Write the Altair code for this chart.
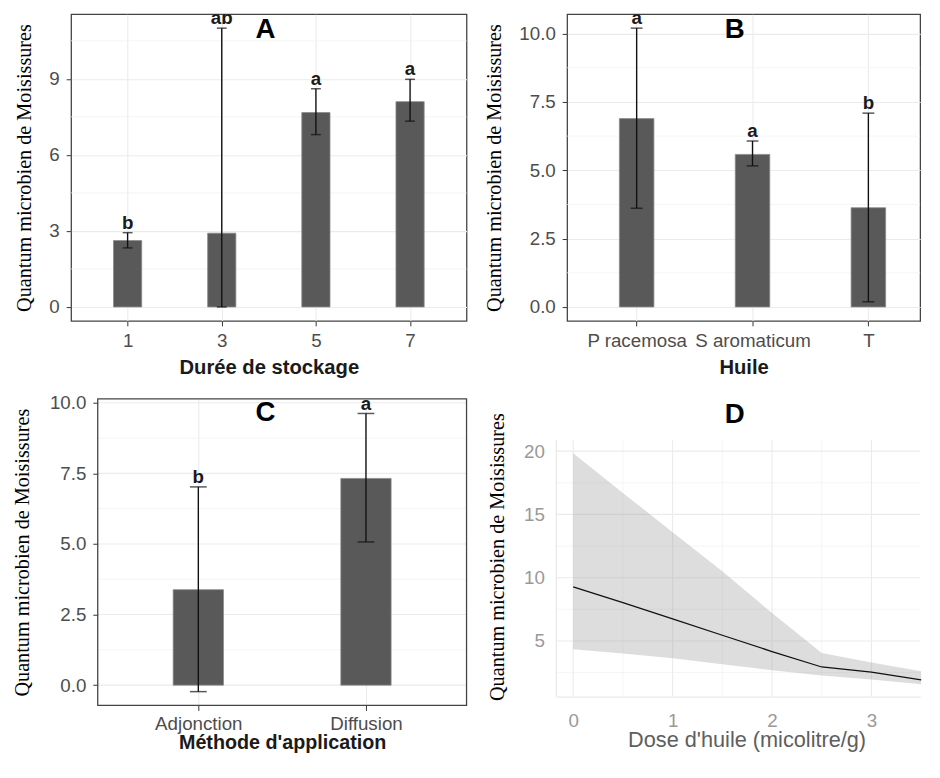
import json
import altair as alt
import pandas as pd

# ---------------- data ----------------
YT = "Quantum microbien de Moisissures"

# Panel A : Durée de stockage
dur_cats = ["1", "3", "5", "7"]
dur_mean = [2.62, 2.91, 7.67, 8.10]
dur_lo = [2.33, 0.0, 6.80, 7.33]
dur_hi = [2.93, 11.0, 8.61, 8.98]
dur_letters = ["b", "ab", "a", "a"]

# Panel B : Huile
huile_cats = ["P racemosa", "S aromaticum", "T"]
huile_mean = [6.89, 5.58, 3.63]
huile_lo = [3.61, 5.16, 0.19]
huile_hi = [10.2, 6.07, 7.09]
huile_letters = ["a", "a", "b"]

# Panel C : Méthode d'application
meth_cats = ["Adjonction", "Diffusion"]
meth_mean = [3.38, 7.32]
meth_lo = [-0.23, 5.07]
meth_hi = [7.02, 9.62]
meth_letters = ["b", "a"]

# Panel D : Dose d'huile
dose = [0, 0.5, 1, 1.5, 2, 2.5, 3, 3.5]
dose_fit = [9.27, 8.03, 6.74, 5.45, 4.16, 2.94, 2.53, 1.93]
dose_upper = [19.84, 16.7, 13.6, 10.5, 7.2, 4.05, 3.3, 2.6]
dose_lower = [4.34, 4.0, 3.64, 3.15, 2.68, 2.27, 1.96, 1.57]
dose_ticks = [0, 1, 2, 3]
dose_minor = [0.5, 1.5, 2.5, 3.5]
d_yticks = [5, 10, 15, 20]
d_yminor = [2.5, 7.5, 12.5, 17.5]

panel_labels = ["A", "B", "C", "D"]

SANS = "Liberation Sans"
SERIF = "Liberation Serif"
GRID = "#ebebeb"
MINOR = "#f2f2f2"
FRAME = "#444444"


def panel_letter(label, px, py):
    return alt.Chart(pd.DataFrame({"t": [label]})).mark_text(
        font=SANS, fontSize=28, fontWeight="bold", color="black", baseline="middle",
        align="center").encode(x=alt.value(px), y=alt.value(py), text="t:N")


def bar_panel(cats, mean, lo, hi, letters, xtitle, ydom, yvals, yminor, yfmt,
              w, h, xdom, bar_size, cap_size, label, lx, ly, ytp,
              xrange=None, yoffset=0, xlp=6, xtp=7, xtfs=20.5):
    df = pd.DataFrame({"pos": list(range(1, len(cats) + 1)), "mean": mean,
                       "lo": lo, "hi": hi, "lab": letters})
    inset = xrange is not None
    yscale = alt.Scale(domain=ydom, nice=False, zero=False)
    if inset:
        xscale = alt.Scale(domain=xdom, nice=False, zero=False, padding=0, range=xrange)
    else:
        xscale = alt.Scale(domain=xdom, nice=False, zero=False, padding=0)
    label_expr = "%s[datum.value - 1]" % json.dumps(cats, ensure_ascii=False)
    xaxis = alt.Axis(title=xtitle, values=list(range(1, len(cats) + 1)), labelExpr=label_expr,
                     labelAngle=0, labelFlush=False, labelOverlap=False,
                     grid=True, gridColor=GRID, gridWidth=1.1,
                     tickColor="#333333", tickSize=5, domain=False,
                     labelFont=SANS, labelFontSize=19, labelColor="#4d4d4d", labelPadding=xlp,
                     titleFont=SANS, titleFontSize=xtfs, titleFontWeight="bold",
                     titleColor="#1a1a1a", titlePadding=xtp)
    yaxis = alt.Axis(title=YT, values=yvals, format=yfmt, grid=not inset, gridColor=GRID,
                     gridWidth=1.1, tickColor="#333333", tickSize=5, domain=False, offset=yoffset,
                     labelFont=SANS, labelFontSize=19, labelColor="#4d4d4d", labelPadding=7,
                     titleFont=SERIF, titleFontSize=20.5, titleFontWeight="normal",
                     titleColor="black", titlePadding=ytp)
    xenc = alt.X("pos:Q", scale=xscale, axis=xaxis)

    def Y(field):
        return alt.Y(field, scale=yscale, axis=yaxis)

    def hgrid(values, color, width):
        ch = alt.Chart(pd.DataFrame({"v": values})).mark_rule(color=color, strokeWidth=width)
        if inset:
            return ch.encode(x=alt.XDatum(xdom[0], scale=xscale, axis=xaxis),
                             x2=alt.X2Datum(xdom[1]), y=Y("v:Q"))
        return ch.encode(y=Y("v:Q"))

    layers = [hgrid(yminor, MINOR, 0.8)]
    if inset:
        layers.append(hgrid(yvals, GRID, 1.1))
    bars = alt.Chart(df).mark_bar(size=bar_size, orient="vertical", color="#595959",
                                  stroke="#8a8a8a", strokeWidth=0.8).encode(x=xenc, y=Y("mean:Q"))
    err = alt.Chart(df).mark_rule(color="#111111", strokeWidth=1.4).encode(
        x=xenc, y=Y("lo:Q"), y2="hi:Q")
    cap_lo = alt.Chart(df).mark_tick(size=cap_size, thickness=1.5, orient="horizontal",
                                     color="#111111").encode(x=xenc, y=Y("lo:Q"))
    cap_hi = alt.Chart(df).mark_tick(size=cap_size, thickness=1.5, orient="horizontal",
                                     color="#111111").encode(x=xenc, y=Y("hi:Q"))
    txt = alt.Chart(df).mark_text(font=SANS, fontSize=19, fontWeight="bold", baseline="bottom",
                                  color="#1a1a1a", clip=True).encode(
        x=xenc, y=Y("hi:Q"), text="lab:N")
    layers += [bars, err, cap_lo, cap_hi, txt, panel_letter(label, lx, ly)]
    if inset:
        # plot frame for a panel whose data rectangle starts inside its cell
        frame = alt.Chart(pd.DataFrame({"z": [0]})).mark_rect(
            fill="transparent", stroke=FRAME, strokeWidth=1.3).encode(
            x=alt.XDatum(xdom[0], scale=xscale, axis=xaxis), x2=alt.X2Datum(xdom[1]),
            y=alt.YDatum(ydom[0], scale=yscale, axis=yaxis), y2=alt.Y2Datum(ydom[1]))
        layers.append(frame)
        view = alt.ViewBackground(stroke="transparent")
    else:
        view = alt.ViewBackground(stroke=FRAME, strokeWidth=1.3)
    return alt.layer(*layers).properties(width=w, height=h, view=view)


A = bar_panel(dur_cats, dur_mean, dur_lo, dur_hi, dur_letters, "Durée de stockage",
              [-0.55, 11.55], [0, 3, 6, 9], [1.5, 4.5, 7.5, 10.5], "d",
              401, 311, [0.4, 4.6], 28.6, 10, panel_labels[0], 197, 16, 15)

B = bar_panel(huile_cats, huile_mean, huile_lo, huile_hi, huile_letters, "Huile",
              [-0.51, 10.71], [0, 2.5, 5, 7.5, 10], [1.25, 3.75, 6.25, 8.75], ".1f",
              358, 311, [0.4, 3.447], 35, 12, panel_labels[1], 170, 16, 15)

C = bar_panel(meth_cats, meth_mean, meth_lo, meth_hi, meth_letters, "Méthode d'application",
              [-0.72, 10.14], [0, 2.5, 5, 7.5, 10], [1.25, 3.75, 6.25, 8.75], ".1f",
              401, 311, [0.4, 2.6], 51, 17, panel_labels[2], 197, 15, 17,
              xrange=[27, 401], yoffset=-27, xlp=4, xtp=0, xtfs=20)

# Panel D
dfD = pd.DataFrame({"dose": dose, "fit": dose_fit, "upper": dose_upper, "lower": dose_lower})
D_XMIN, D_XMAX = -0.17, 3.49
D_YMIN, D_YTOP = 0.6, 20.87
xsD = alt.Scale(domain=[D_XMIN, D_XMAX], nice=False, zero=False, padding=0, range=[-11, 358])
ysD = alt.Scale(domain=[D_YMIN, 24.14], nice=False, zero=False)
xaxD = alt.Axis(title="Dose d'huile (micolitre/g)", values=dose_ticks, format="d", grid=False,
                ticks=False, domain=True, domainColor="#e3e3e3", labelFlush=False,
                labelFont=SANS, labelFontSize=19, labelColor="#999999", labelPadding=15,
                titleFont=SANS, titleFontSize=22, titleFontWeight="normal", titleColor="#5e5e5e",
                titlePadding=0, titleX=182)
yaxD = alt.Axis(title=YT, values=d_yticks, format="d", grid=False, offset=11,
                ticks=False, domain=False,
                labelFont=SANS, labelFontSize=19, labelColor="#999999", labelPadding=12,
                titleFont=SERIF, titleFontSize=20.5, titleFontWeight="normal", titleColor="black",
                titlePadding=16, titleY=160)
XD = alt.X("dose:Q", scale=xsD, axis=xaxD)


def YD(field):
    return alt.Y(field, scale=ysD, axis=yaxD)


def vrules(values, width, color):
    return alt.Chart(pd.DataFrame({"v": values})).mark_rule(color=color, strokeWidth=width).encode(
        x=alt.X("v:Q", scale=xsD, axis=xaxD),
        y=alt.YDatum(D_YMIN, scale=ysD, axis=yaxD),
        y2=alt.Y2Datum(D_YTOP))


def hrules(values, width, color):
    return alt.Chart(pd.DataFrame({"v": values})).mark_rule(color=color, strokeWidth=width).encode(
        x=alt.XDatum(D_XMIN, scale=xsD, axis=xaxD), x2=alt.X2Datum(D_XMAX), y=YD("v:Q"))


band = alt.Chart(dfD).mark_area(color="#999999", opacity=0.33).encode(
    x=XD, y=YD("lower:Q"), y2="upper:Q")
line = alt.Chart(dfD).mark_line(color="#111111", strokeWidth=1.3).encode(x=XD, y=YD("fit:Q"))
D = alt.layer(hrules(d_yminor, 0.8, MINOR), vrules(dose_minor[:-1], 0.8, MINOR),
              hrules(d_yticks, 1.1, GRID), vrules(dose_ticks, 1.1, GRID),
              vrules([D_XMIN], 1, "#e3e3e3"), band, line,
              panel_letter(panel_labels[3], 170, 17)).properties(
    width=358, height=302,
    view=alt.ViewBackground(stroke="transparent"),
)

chart = alt.ConcatChart(
    concat=[A, B, C, D],
    columns=2, bounds="flush", spacing={"row": 79, "column": 102},
).properties(padding={"left": 4, "top": 0, "right": 0, "bottom": 0})

chart.save("out.html", embed_options={"renderer": "svg", "actions": False})
